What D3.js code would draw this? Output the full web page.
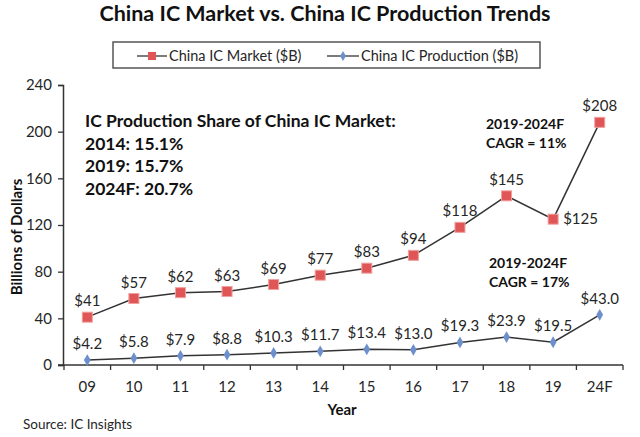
<!DOCTYPE html>
<html>
<head>
<meta charset="utf-8">
<script src="https://cdn.jsdelivr.net/npm/d3@7"></script>
<style>
  body { margin: 0; background: #fff; }
  svg { display: block; font-family: Lato, "Open Sans", sans-serif; }
</style>
</head>
<body>
<svg id="chart" width="640" height="437"></svg>
<script>
// chart data
var years = ["09", "10", "11", "12", "13", "14", "15", "16", "17", "18", "19", "24F"];
var marketValues = [41, 57, 62, 63, 69, 77, 83, 94, 118, 145, 125, 208];
var productionValues = [4.2, 5.8, 7.9, 8.8, 10.3, 11.7, 13.4, 13.0, 19.3, 23.9, 19.5, 43.0];
var marketLabels = ["$41", "$57", "$62", "$63", "$69", "$77", "$83", "$94", "$118", "$145", "$125", "$208"];
var productionLabels = ["$4.2", "$5.8", "$7.9", "$8.8", "$10.3", "$11.7", "$13.4", "$13.0", "$19.3", "$23.9", "$19.5", "$43.0"];
var yTicks = [0, 40, 80, 120, 160, 200, 240];
var shareLines = ["IC Production Share of China IC Market:", "2014: 15.1%", "2019: 15.7%", "2024F: 20.7%"];

var svg = d3.select("#chart");
var textColor = "#262626";
var marketColor = "#e05555";
var prodColor = "#6d8fcc";

var x = d3.scaleBand().domain(years).range([64, 623]);
var y = d3.scaleLinear().domain([0, 240]).range([365, 85]);

// title
svg.append("text")
    .attr("x", 325).attr("y", 21)
    .attr("text-anchor", "middle")
    .attr("font-size", 21.5).attr("font-weight", "bold")
    .attr("fill", "#111")
    .text("China IC Market vs. China IC Production Trends");

// legend
var legend = svg.append("g");
legend.append("rect")
    .attr("x", 113).attr("y", 42).attr("width", 427).attr("height", 26)
    .attr("fill", "#fff").attr("stroke", "#555").attr("stroke-width", 1.5);
legend.append("line").attr("x1", 137).attr("x2", 167).attr("y1", 56).attr("y2", 56)
    .attr("stroke", "#333").attr("stroke-width", 1.3);
legend.append("rect").attr("x", 148).attr("y", 52).attr("width", 8).attr("height", 8)
    .attr("fill", marketColor);
legend.append("text").attr("x", 169).attr("y", 61)
    .attr("font-size", 14.5).attr("fill", textColor).text("China IC Market ($B)");
legend.append("line").attr("x1", 327).attr("x2", 359).attr("y1", 56).attr("y2", 56)
    .attr("stroke", "#333").attr("stroke-width", 1.3);
legend.append("path").attr("d", d3.symbol(d3.symbolDiamond, 30)())
    .attr("transform", "translate(343,56)").attr("fill", prodColor);
legend.append("text").attr("x", 361).attr("y", 61)
    .attr("font-size", 14.5).attr("fill", textColor).text("China IC Production ($B)");

// axes
var yAxis = svg.append("g")
    .attr("transform", "translate(63,0)")
    .call(d3.axisLeft(y).tickValues(yTicks).tickSize(5).tickPadding(6));
var xAxis = svg.append("g")
    .attr("transform", "translate(0,365)")
    .call(d3.axisBottom(x).tickSize(0).tickPadding(16));
[yAxis, xAxis].forEach(function(ax) {
    ax.select(".domain").attr("stroke", "#333").attr("stroke-width", 1.5);
    ax.selectAll("text").attr("font-size", 15).attr("fill", textColor)
        .attr("font-family", "Lato, 'Open Sans', sans-serif");
    ax.selectAll(".tick line").attr("stroke", "#333").attr("stroke-width", 1.3);
});
xAxis.select(".domain").attr("d", "M58,0H623");

// x ticks at band edges
var edges = years.map(function(d) { return x(d); }).concat([x.range()[1]]);
xAxis.selectAll(".edge").data(edges).enter().append("line")
    .attr("x1", function(d) { return d; }).attr("x2", function(d) { return d; })
    .attr("y1", 0).attr("y2", 5)
    .attr("stroke", "#333").attr("stroke-width", 1.3);

// axis titles
svg.append("text")
    .attr("transform", "translate(22,237) rotate(-90)")
    .attr("text-anchor", "middle")
    .attr("font-size", 15).attr("font-weight", "bold").attr("fill", "#111")
    .text("Billions of Dollars");
svg.append("text")
    .attr("x", 342).attr("y", 415)
    .attr("text-anchor", "middle")
    .attr("font-size", 15).attr("font-weight", "bold").attr("fill", "#111")
    .text("Year");
svg.append("text")
    .attr("x", 23).attr("y", 429)
    .attr("font-size", 13.5).attr("fill", textColor)
    .text("Source: IC Insights");

// lines
function cx(d, i) { return x(years[i]) + x.bandwidth() / 2; }
var line = d3.line().x(cx).y(function(d) { return y(d); });

svg.append("path").datum(marketValues).attr("d", line)
    .attr("fill", "none").attr("stroke", "#333").attr("stroke-width", 1.5);
svg.append("path").datum(productionValues).attr("d", line)
    .attr("fill", "none").attr("stroke", "#333").attr("stroke-width", 1.5);

svg.selectAll(".mk").data(marketValues).enter().append("rect")
    .attr("x", function(d, i) { return cx(d, i) - 5; })
    .attr("y", function(d) { return y(d) - 5; })
    .attr("width", 10).attr("height", 10)
    .attr("fill", marketColor).attr("stroke", "#f0a0a0").attr("stroke-width", 1);

svg.selectAll(".pd").data(productionValues).enter().append("path")
    .attr("d", d3.symbol(d3.symbolDiamond, 40)())
    .attr("transform", function(d, i) { return "translate(" + cx(d, i) + "," + y(d) + ")"; })
    .attr("fill", prodColor);

// data labels
svg.selectAll(".ml").data(marketValues).enter().append("text")
    .attr("x", function(d, i) { return i == 10 ? cx(d, i) + 10 : cx(d, i); })
    .attr("y", function(d, i) { return i == 10 ? y(d) + 5 : y(d) - 11; })
    .attr("text-anchor", function(d, i) { return i == 10 ? "start" : "middle"; })
    .attr("font-size", 15).attr("fill", textColor)
    .text(function(d, i) { return marketLabels[i]; });

svg.selectAll(".pl").data(productionValues).enter().append("text")
    .attr("x", function(d, i) { return cx(d, i); })
    .attr("y", function(d) { return y(d) - 11; })
    .attr("text-anchor", "middle")
    .attr("font-size", 15).attr("fill", textColor)
    .text(function(d, i) { return productionLabels[i]; });

// share text block
svg.selectAll(".share").data(shareLines).enter().append("text")
    .attr("x", 85)
    .attr("y", function(d, i) { return i == 0 ? 127 : 127 + i * 22.5; })
    .attr("font-size", 17.5).attr("font-weight", "bold").attr("fill", "#111")
    .text(function(d) { return d; });

// CAGR notes
var notes = [
    { x: 486, y: 129, lines: ["2019-2024F", "CAGR = 11%"] },
    { x: 489, y: 268, lines: ["2019-2024F", "CAGR = 17%"] }
];
notes.forEach(function(n) {
    n.lines.forEach(function(t, i) {
        svg.append("text").attr("x", n.x).attr("y", n.y + i * 19)
            .attr("font-size", 14).attr("font-weight", "bold").attr("fill", "#111")
            .text(t);
    });
});
</script>
</body>
</html>
